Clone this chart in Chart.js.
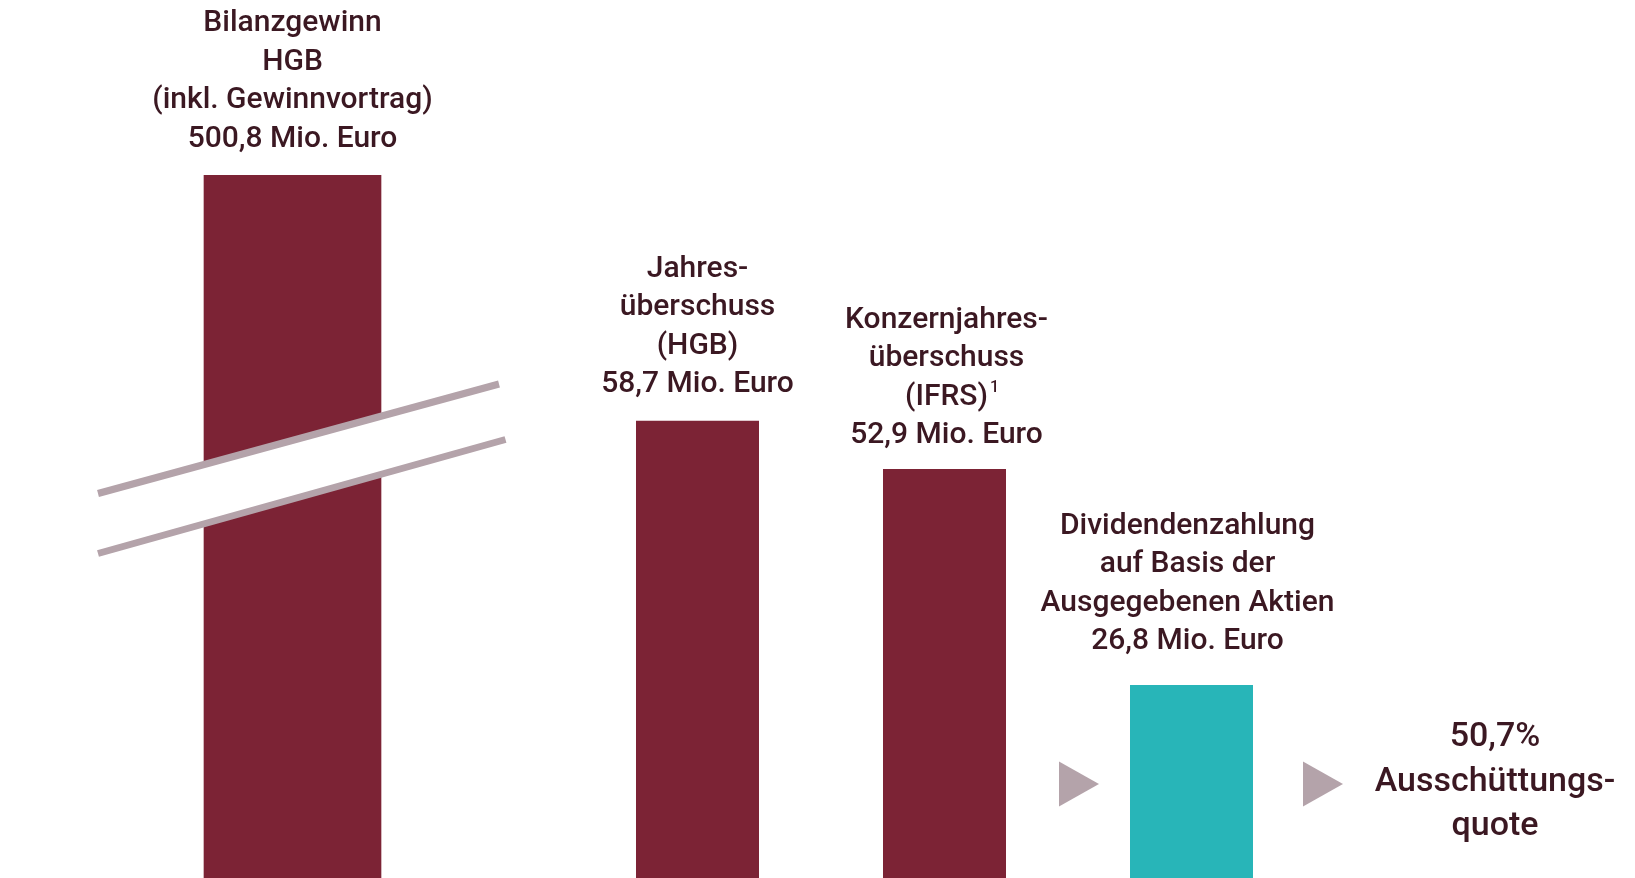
<!DOCTYPE html>
<html>
<head>
<meta charset="utf-8">
<script src="https://cdn.jsdelivr.net/npm/chart.js@4/dist/chart.umd.min.js"></script>
<style>
html,body{margin:0;padding:0;background:#ffffff;overflow:hidden}
canvas{display:block}
</style>
</head>
<body>
<canvas id="c" width="1635" height="878"></canvas>
<script>
// ---- data ----
const categories = ['Bilanzgewinn HGB', 'Jahresüberschuss HGB', 'Konzernjahresüberschuss IFRS', 'Dividendenzahlung'];
const values = [500.8, 58.7, 52.9, 26.8];
const groups = [0, 1, 1, 1];
const groupNames = ['Bilanzgewinn', 'Ergebnis und Dividende'];
const labelLines = [
  ['Bilanzgewinn', 'HGB', '(inkl. Gewinnvortrag)'],
  ['Jahres-', 'überschuss', '(HGB)'],
  ['Konzernjahres-', 'überschuss', '(IFRS)'],
  ['Dividendenzahlung', 'auf Basis der', 'Ausgegebenen Aktien']
];
const footnotes = ['', '', '1', ''];
const unitText = 'Mio. Euro';
const payoutRatio = [50.7];
const payoutLines = ['Ausschüttungs-', 'quote'];

// ---- style ----
const MAROON = '#7c2335';
const TEAL = '#28b5b8';
const MAUVE = '#b4a3aa';
const TEXT = '#3b1822';
const FONT = 'Roboto, "Noto Sans", sans-serif';

const fmt = v => v.toLocaleString('de-DE', {minimumFractionDigits: 1, maximumFractionDigits: 1});

const datasets = values.map((v, i) => {
  const ds = {
    label: categories[i],
    data: groupNames.map((_, g) => (g === groups[i] ? v : null)),
    backgroundColor: i === 3 ? TEAL : MAROON,
    borderWidth: 0,
    skipNull: true,
    clip: {left: false, right: false, top: 0, bottom: false}
  };
  if (groups[i] === 0) {
    ds.barThickness = 177;
  } else {
    ds.categoryPercentage = 1.1365;
    ds.barPercentage = 0.498;
  }
  return ds;
});

const deco = {
  id: 'deco',
  afterDatasetsDraw(chart, args, opts) {
    const ctx = chart.ctx;
    const area = chart.chartArea;
    const bars = datasets.map((d, i) => chart.getDatasetMeta(i).data[groups[i]]);

    // axis-break marks across the first bar
    const bx = bars[0].x;
    const l1 = [[bx - 194.5, 493.5], [bx + 206.5, 384]];
    const l2 = [[bx - 194.5, 553.5], [bx + 213, 439.5]];
    ctx.save();
    ctx.fillStyle = '#ffffff';
    ctx.beginPath();
    ctx.moveTo(l1[0][0], l1[0][1]);
    ctx.lineTo(l1[1][0], l1[1][1]);
    ctx.lineTo(l2[1][0], l2[1][1]);
    ctx.lineTo(l2[0][0], l2[0][1]);
    ctx.closePath();
    ctx.fill();
    ctx.strokeStyle = MAUVE;
    ctx.lineWidth = 7;
    ctx.lineCap = 'butt';
    [l1, l2].forEach(l => {
      ctx.beginPath();
      ctx.moveTo(l[0][0], l[0][1]);
      ctx.lineTo(l[1][0], l[1][1]);
      ctx.stroke();
    });

    // labels above bars
    const lh = opts.lineHeight;
    ctx.fillStyle = TEXT;
    ctx.textAlign = 'center';
    ctx.textBaseline = 'middle';
    bars.forEach((b, i) => {
      const top = i === 0 ? area.top : b.y;
      const lines = labelLines[i].concat([fmt(values[i]) + ' ' + unitText]);
      const n = lines.length;
      const cx = b.x + opts.labelShift[i];
      ctx.font = '500 30px ' + FONT;
      lines.forEach((t, k) => {
        const y = top - opts.gaps[i] + 1.5 - (n - 1 - k) * lh;
        ctx.fillText(t, cx, y);
        if (k === 2 && footnotes[i]) {
          const w = ctx.measureText(t).width;
          ctx.save();
          ctx.font = '500 16px ' + FONT;
          ctx.textAlign = 'left';
          ctx.fillText(footnotes[i], cx + w / 2 + 2, y - 9);
          ctx.restore();
        }
      });
    });

    // arrows and payout ratio
    const d = bars[3];
    const cy = area.bottom - 94;
    ctx.fillStyle = MAUVE;
    [[d.x - 132.5, d.x - 92.5], [d.x + 111.5, d.x + 151.5]].forEach(([x0, x1]) => {
      ctx.beginPath();
      ctx.moveTo(x0, cy - 22.5);
      ctx.lineTo(x1, cy);
      ctx.lineTo(x0, cy + 22.5);
      ctx.closePath();
      ctx.fill();
    });
    ctx.fillStyle = TEXT;
    ctx.font = '500 34px ' + FONT;
    const qx = d.x + 303.5;
    const qLines = [fmt(payoutRatio[0]) + '%'].concat(payoutLines);
    qLines.forEach((t, k) => ctx.fillText(t, qx, 737.5 + k * 44.5));
    ctx.restore();
  }
};

new Chart(document.getElementById('c'), {
  type: 'bar',
  data: {labels: groupNames, datasets},
  options: {
    responsive: false,
    animation: false,
    devicePixelRatio: 1,
    layout: {padding: {left: 292.5, right: 690.5, top: 175, bottom: 0}},
    scales: {
      x: {type: 'category', display: false, offset: false, grid: {display: false}},
      y: {display: false, min: 3.52, max: 88.37, grid: {display: false}}
    },
    plugins: {
      legend: {display: false},
      tooltip: {enabled: false},
      title: {display: false},
      deco: {lineHeight: 38.5, gaps: [37.5, 37.5, 34.5, 45], labelShift: [0, 0, 2, -4]}
    }
  },
  plugins: [deco]
});
</script>
</body>
</html>
